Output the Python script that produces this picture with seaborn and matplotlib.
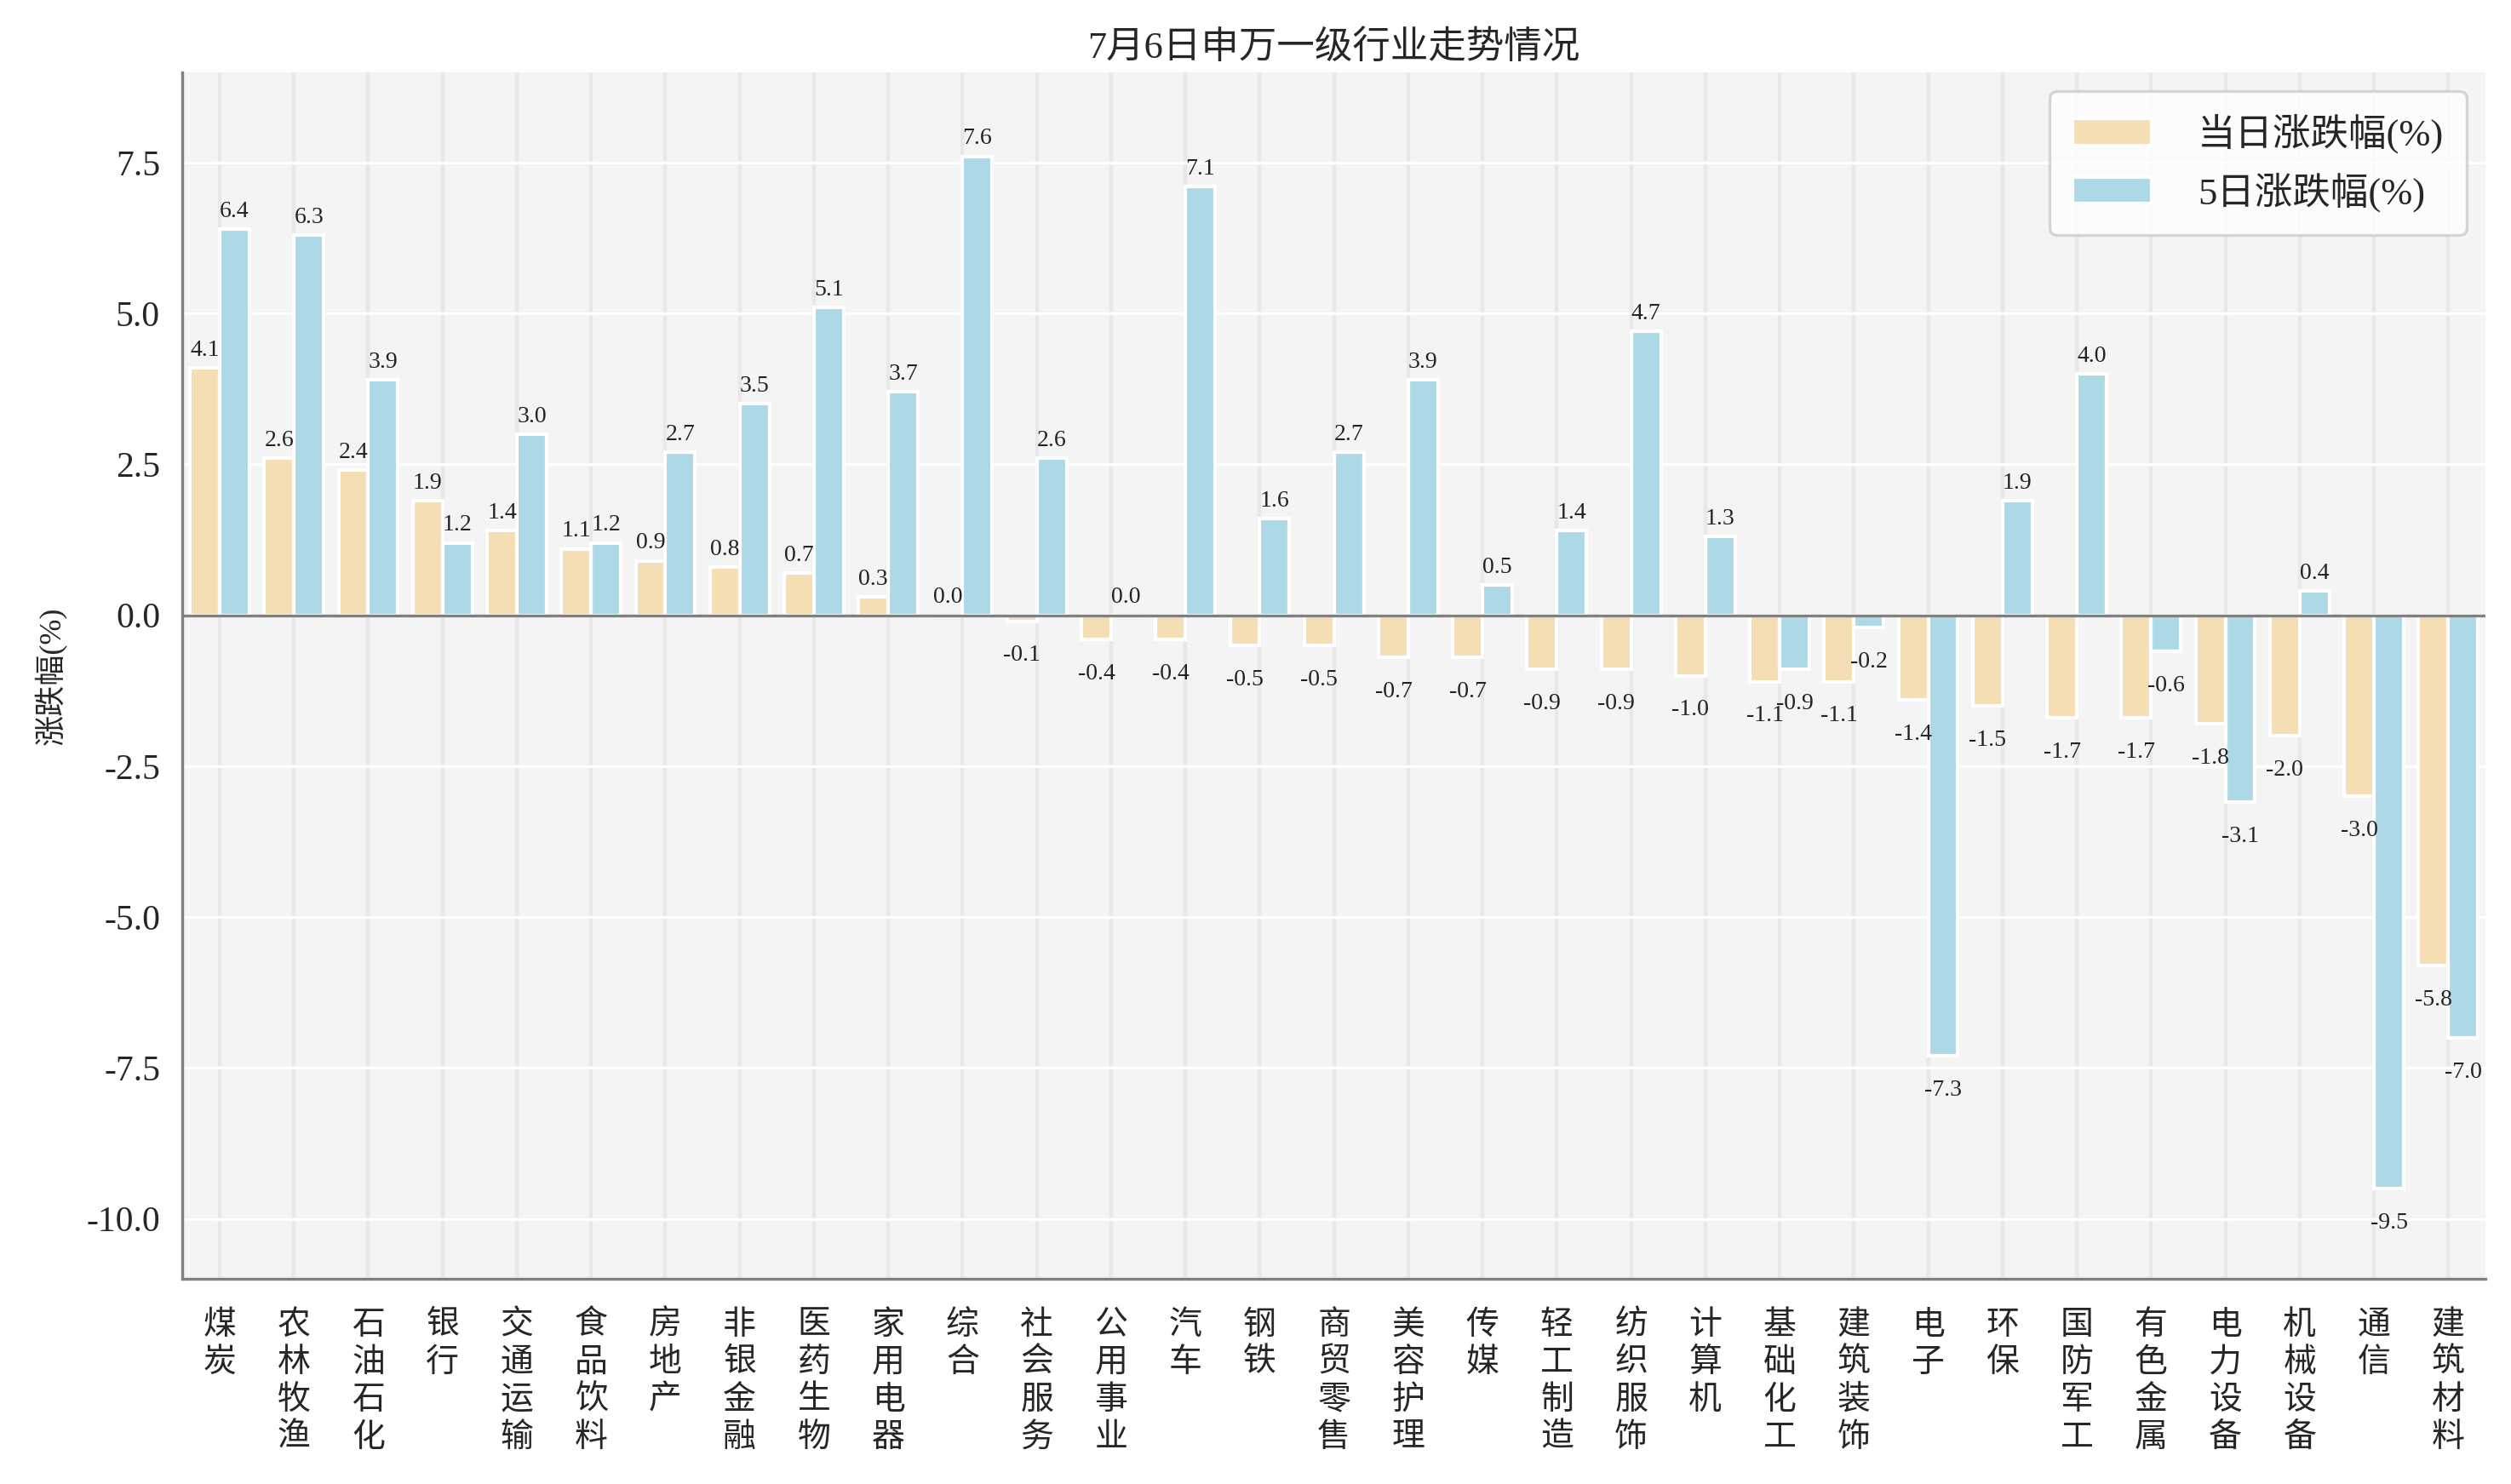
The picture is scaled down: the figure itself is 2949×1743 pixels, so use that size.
import pandas as pd
import seaborn as sns
import matplotlib.pyplot as plt

industries = ['煤炭', '农林牧渔', '石油石化', '银行', '交通运输', '食品饮料', '房地产', '非银金融',
              '医药生物', '家用电器', '综合', '社会服务', '公用事业', '汽车', '钢铁', '商贸零售',
              '美容护理', '传媒', '轻工制造', '纺织服饰', '计算机', '基础化工', '建筑装饰', '电子',
              '环保', '国防军工', '有色金属', '电力设备', '机械设备', '通信', '建筑材料']
chg_1d = [4.1, 2.6, 2.4, 1.9, 1.4, 1.1, 0.9, 0.8, 0.7, 0.3, 0.0, -0.1, -0.4, -0.4, -0.5, -0.5,
          -0.7, -0.7, -0.9, -0.9, -1.0, -1.1, -1.1, -1.4, -1.5, -1.7, -1.7, -1.8, -2.0, -3.0, -5.8]
chg_5d = [6.4, 6.3, 3.9, 1.2, 3.0, 1.2, 2.7, 3.5, 5.1, 3.7, 7.6, 2.6, 0.0, 7.1, 1.6, 2.7,
          3.9, 0.5, 1.4, 4.7, 1.3, -0.9, -0.2, -7.3, 1.9, 4.0, -0.6, -3.1, 0.4, -9.5, -7.0]
series_names = ['当日涨跌幅(%)', '5日涨跌幅(%)']

df = pd.DataFrame({'行业': industries, series_names[0]: chg_1d, series_names[1]: chg_5d})
df_long = df.melt(id_vars='行业', var_name='指标', value_name='涨跌幅')

sns.set_theme(style='whitegrid')
plt.rcParams['font.family'] = ['Liberation Serif', 'Noto Sans CJK SC', 'DejaVu Sans']
plt.rcParams['axes.unicode_minus'] = False

fig, ax = plt.subplots(figsize=(14.745, 8.715), dpi=200)
fig.subplots_adjust(left=0.0727, right=0.9898, top=0.9515, bottom=0.138)
ax.set_facecolor('#f4f4f4')

sns.barplot(data=df_long, x='行业', y='涨跌幅', hue='指标',
            palette=['#f5deb3', '#add8e6'], saturation=1, edgecolor='white', linewidth=1.5,
            width=0.8, ax=ax)

# 数值标签
for cont in ax.containers:
    for bar in cont:
        h = bar.get_height()
        xc = bar.get_x() + bar.get_width() / 2
        if h >= 0:
            ax.annotate(f'{h:.1f}', (xc, h), xytext=(0, 3), textcoords='offset points',
                        ha='center', va='bottom', fontsize=10, color='#222222')
        else:
            ax.annotate(f'{h:.1f}', (xc, h), xytext=(0, -10), textcoords='offset points',
                        ha='center', va='top', fontsize=10, color='#222222')

ax.axhline(0, color='#808080', linewidth=1.2)
ax.set_ylim(-11, 9)
ax.set_xlim(-0.5, len(industries) - 0.5)
ax.set_yticks([-10, -7.5, -5, -2.5, 0, 2.5, 5, 7.5])
ax.set_yticklabels(['-10.0', '-7.5', '-5.0', '-2.5', '0.0', '2.5', '5.0', '7.5'], fontsize=15)
ax.set_xticks(range(len(industries)))
ax.set_xticklabels(['\n'.join(s) for s in industries], fontsize=14, va='top', linespacing=1.25)
ax.tick_params(axis='x', pad=7)

ax.grid(axis='y', color='white', linewidth=1.2)
ax.grid(axis='x', color='#e8e8e8', linewidth=1.6)
ax.set_axisbelow(True)

for side in ['top', 'right']:
    ax.spines[side].set_visible(False)
for side in ['left', 'bottom']:
    ax.spines[side].set_color('#808080')
    ax.spines[side].set_linewidth(1.2)

ax.set_xlabel('')
ax.set_ylabel('涨跌幅(%)', fontsize=13, labelpad=8)
ax.set_title('7月6日申万一级行业走势情况', fontsize=16)

leg = ax.legend(loc='upper right', fontsize=16, frameon=True, handlelength=2.1,
                handletextpad=1.2, borderpad=0.6)
leg.get_frame().set_edgecolor('#cccccc')
leg.get_frame().set_facecolor('white')
leg.get_frame().set_linewidth(1.2)

plt.savefig('out.png', dpi=200)
